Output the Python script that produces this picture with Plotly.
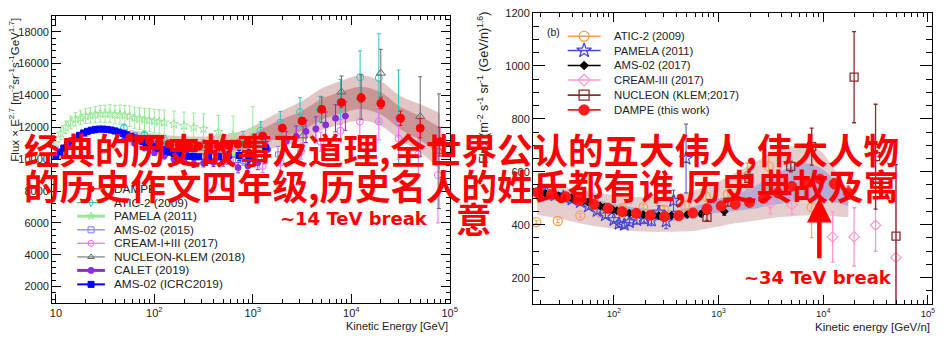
import plotly.graph_objects as go

W, H = 951, 352


def px(x):
    return x / W


def py(y):
    return 1 - y / H


# ================= Left panel : proton, Flux x E^2.7 =================
dampe_p_E = [56, 71, 89, 112, 141, 178, 224, 282, 355, 447, 562, 708, 891, 1259, 1995,
             3162, 5012, 7943, 12590, 19950, 31620, 50120, 79430]
dampe_p_F = [11350, 11250, 11150, 11050, 10950, 10900, 10850, 10820, 10800, 10820, 10870,
             10950, 11050, 11450, 11950, 12400, 13130, 13560, 13850, 13500, 12570, 11950, 11100]
dampe_p_err = [15, 15, 15, 15, 15, 15, 20, 20, 20, 25, 25, 30, 30, 40, 60, 90, 130, 180,
               250, 330, 450, 600, 900]
dampe_p_inner = [250, 250, 250, 260, 270, 280, 290, 300, 310, 330, 350, 380, 420, 480, 560,
                 620, 660, 680, 700, 700, 700, 750, 900]
dampe_p_outer = [500, 500, 500, 520, 540, 560, 580, 600, 620, 660, 700, 760, 840, 950, 1100,
                 1250, 1320, 1370, 1420, 1400, 1400, 1500, 1800]

atic_p_E = [49, 79, 126, 200, 316, 501, 794, 1202, 1905, 3020, 4786, 7762, 12300, 19050, 30200]
atic_p_F = [11950, 11500, 11200, 11000, 10900, 11000, 11300, 11800, 12300, 12960, 13150,
            13600, 15150, 15100, 12600]
atic_p_err = [250, 250, 280, 300, 330, 380, 450, 550, 700, 900, 800, 1400, 1650, 2770, 3000]

pamela_p_E = [10, 11.2, 12.6, 14.1, 15.8, 17.8, 20, 22.4, 25.1, 28.2, 31.6, 35.5, 39.8, 44.7,
              50.1, 56.2, 63.1, 70.8, 79.4, 89.1, 100, 112, 126, 158, 200, 251, 316, 447, 631, 1000]
pamela_p_F = [11000, 11600, 12000, 12300, 12500, 12600, 12700, 12750, 12800, 12850, 12850,
              12850, 12800, 12800, 12750, 12700, 12600, 12550, 12500, 12450, 12400, 12350,
              12300, 12200, 12100, 12000, 11900, 11700, 11500, 11800]
pamela_p_err = [350, 360, 380, 400, 420, 440, 460, 480, 500, 520, 540, 560, 580, 600, 620,
                640, 660, 680, 700, 720, 740, 760, 780, 820, 860, 900, 950, 1050, 1200, 1500]

ams15_p_E = [10, 12.6, 15.8, 20, 25.1, 31.6, 39.8, 50.1, 63.1, 79.4, 100, 126, 158, 200, 251,
             316, 398, 501, 631, 794, 1000, 1300, 1800]
ams15_p_F = [10150, 10750, 11250, 11600, 11800, 11850, 11800, 11680, 11500, 11300, 11050,
             10800, 10550, 10350, 10250, 10200, 10150, 10000, 9950, 9900, 10000, 10100, 10300]
ams15_p_err = [60, 60, 60, 60, 60, 60, 60, 70, 70, 80, 90, 100, 110, 120, 140, 160, 180, 200,
               230, 270, 320, 400, 500]

cream_p_E = [1259, 1905, 3090, 4898, 7762, 12220, 19050, 30200, 47860, 75860]
cream_p_F = [9580, 9780, 10508, 11100, 11784, 12365, 12365, 11300, 10300, 9000]
cream_p_err = [400, 450, 500, 600, 700, 900, 1150, 1300, 1400, 3000]

nucleon_p_E = [3236, 5012, 7943, 12590, 19950, 50120, 77620]
nucleon_p_F = [11474, 13100, 14223, 13900, 15400, 12675, 10500]
nucleon_p_err = [600, 800, 1000, 1400, 1500, 2500, 3600]

calet_p_E = [50, 63, 79, 100, 126, 158, 200, 251, 316, 398, 501, 556, 708, 891, 1122, 1413,
             2188, 2754, 3467, 4365, 5495, 6918, 8710]
calet_p_F = [11300, 11000, 10700, 10400, 10200, 10000, 9850, 9700, 9750, 9800, 9850, 9990,
             9474, 9579, 9780, 10607, 11126, 11436, 11746, 11907, 12155, 12570, 12712]
calet_p_err = [150, 150, 160, 170, 180, 190, 200, 220, 240, 260, 290, 300, 330, 380, 430, 500,
               600, 650, 700, 750, 800, 850, 900]

amsicrc_p_E = [10.0, 11.0, 12.0, 13.2, 14.5, 15.8, 17.4, 19.1, 20.9, 22.9, 25.1, 27.5, 30.2,
               33.1, 36.3, 39.8, 43.7, 47.9, 52.5, 57.5, 63.1, 69.2, 75.9, 83.2, 91.2, 100,
               110, 120, 132, 145, 158, 174, 191, 209, 229, 251, 282, 355, 447, 562, 724,
               912, 1350]
amsicrc_p_F = [10200, 10450, 10700, 10950, 11150, 11350, 11500, 11650, 11750, 11820, 11870,
               11890, 11890, 11870, 11830, 11770, 11700, 11620, 11530, 11430, 11330, 11220,
               11110, 11000, 10890, 10790, 10690, 10600, 10510, 10430, 10360, 10300, 10250,
               10210, 10180, 10160, 10150, 10150, 10170, 10200, 10230, 10200, 10715]
amsicrc_p_err = [30, 30, 30, 30, 30, 30, 30, 30, 30, 30, 30, 30, 30, 30, 35, 35, 35, 35, 40,
                 40, 40, 45, 45, 50, 50, 55, 60, 65, 70, 75, 80, 90, 100, 110, 120, 130, 150,
                 180, 220, 270, 330, 420, 650]

# ================= Right panel : helium, GeV/n =================
dampe_he_E = [18.6, 25.4, 34.7, 47.3, 64.6, 88.1, 120, 164, 224, 305, 417, 569, 776, 1059,
              1445, 1972, 2692, 3673, 5012, 6839, 9333, 12735, 17378]
dampe_he_F = [521, 515, 506, 492, 477, 462, 449, 443, 436, 431, 434, 444, 460, 471, 477, 484,
              500, 520, 545, 562, 572, 555, 521]
dampe_he_err = [3, 3, 3, 3, 3, 3, 3, 3, 3, 3, 4, 4, 5, 5, 6, 7, 8, 10, 12, 14, 17, 20, 25]
dampe_he_out_lo = [437, 428, 418, 405, 395, 388, 380, 375, 373, 373, 374, 376, 385, 395, 405,
                   412, 420, 428, 432, 435, 435, 432, 428]
dampe_he_out_hi = [548, 545, 540, 532, 523, 515, 508, 505, 505, 508, 515, 528, 545, 568, 595,
                   625, 655, 680, 695, 700, 680, 610, 530]
dampe_he_in_lo = [497, 492, 484, 472, 458, 444, 432, 426, 420, 415, 417, 425, 438, 447, 452,
                  458, 468, 478, 488, 494, 494, 486, 470]
dampe_he_in_hi = [530, 526, 520, 510, 497, 484, 472, 465, 458, 454, 457, 468, 484, 500, 515,
                  535, 565, 595, 620, 632, 615, 570, 510]

atic_he_E = [18.2, 29.2, 47.9, 74.8, 120, 191, 302, 479, 759, 1230, 1884, 3020, 7762]
atic_he_F = [410, 414, 435, 445, 463, 466, 457, 472, 506, 515, 583, 620, 466]
atic_he_err = [6, 6, 7, 8, 9, 10, 12, 14, 18, 25, 50, 40, 115]

pamela_he_E = [19.1, 22.9, 27.5, 33.1, 39.8, 47.9, 57.5, 69.2, 83.2, 100, 112, 126, 141, 166,
               195, 229, 269, 316, 372, 490]
pamela_he_F = [527, 520, 512, 505, 496, 486, 470, 452, 436, 418, 404, 400, 410, 418, 422, 416,
               447, 413, 490, 650]
pamela_he_err = [6, 6, 6, 6, 7, 7, 8, 8, 9, 10, 12, 13, 14, 16, 18, 20, 25, 28, 40, 130]

ams_he_E = [17.0, 18.6, 20.4, 22.4, 24.5, 26.9, 29.5, 32.4, 35.5, 38.9, 42.7, 46.8, 51.3, 56.2,
            61.7, 67.6, 74.1, 81.3, 89.1, 97.7, 107, 117, 129, 141, 155, 170, 191, 214, 240,
            269, 309, 355, 407, 501, 684, 1135]
ams_he_F = [523, 521, 519, 517, 515, 512, 510, 507, 504, 501, 498, 494, 490, 486, 481, 476,
            471, 466, 461, 457, 453, 450, 447, 444, 442, 440, 438, 436, 435, 434, 434, 435,
            436, 438, 441, 450]
ams_he_err = [2, 2, 2, 2, 2, 2, 2, 2, 2, 2, 2, 2, 2, 2, 2, 2, 2, 2, 2, 2, 3, 3, 3, 3, 3, 3,
              3, 4, 4, 4, 5, 5, 6, 8, 10, 14]

cream_he_E = [3126, 5012, 12300, 19720, 31620, 49430]
cream_he_F = [478, 476, 354, 354, 398, 276]
cream_he_err_up = [37, 37, 95, 110, 272, 394]
cream_he_err_dn = [37, 37, 95, 110, 99, 250]

nucleon_he_E = [776, 1230, 1950, 4898, 7762, 19720, 31620, 49550]
nucleon_he_F = [428, 484, 575, 620, 695, 957, 657, 357]
nucleon_he_err = [12, 15, 25, 20, 70, 172, 198, 270]

# tick labels
left_tickvals = [10, 100, 1000, 10000, 100000]
left_ticktext = ["10", "10<sup>2</sup>", "10<sup>3</sup>", "10<sup>4</sup>", "10<sup>5</sup>"]
right_tickvals = [100, 1000, 10000, 100000]
right_ticktext = ["10<sup>2</sup>", "10<sup>3</sup>", "10<sup>4</sup>", "10<sup>5</sup>"]

fig = go.Figure()


def add_band(E, lo, hi, color, xa, ya):
    fig.add_trace(go.Scatter(x=E, y=lo, mode="lines", line=dict(width=0, shape="spline"),
                             xaxis=xa, yaxis=ya, showlegend=False, hoverinfo="skip"))
    fig.add_trace(go.Scatter(x=E, y=hi, mode="lines", line=dict(width=0, shape="spline"),
                             fill="tonexty", fillcolor=color, xaxis=xa, yaxis=ya,
                             showlegend=False, hoverinfo="skip"))


def add_pts(E, F, err, color, symbol, size, xa, ya, lw=1.0, err_dn=None, ebw=1.0):
    ey = dict(type="data", array=err, color=color, thickness=ebw, width=2)
    if err_dn is not None:
        ey["arrayminus"] = err_dn
        ey["symmetric"] = False
    fig.add_trace(go.Scatter(x=E, y=F, mode="markers", xaxis=xa, yaxis=ya, showlegend=False,
                             marker=dict(color=color, symbol=symbol, size=size,
                                         line=dict(color=color, width=lw)),
                             error_y=ey, hoverinfo="skip"))


# ---- left bands ----
add_band(dampe_p_E, [f - o for f, o in zip(dampe_p_F, dampe_p_outer)],
         [f + o for f, o in zip(dampe_p_F, dampe_p_outer)], "rgba(178,105,105,0.38)", "x", "y")
add_band(dampe_p_E, [f - o for f, o in zip(dampe_p_F, dampe_p_inner)],
         [f + o for f, o in zip(dampe_p_F, dampe_p_inner)], "rgba(170,80,80,0.42)", "x", "y")

# ---- left points ----
add_pts(pamela_p_E, pamela_p_F, pamela_p_err, "#98e898", "star-open", 7, "x", "y")
add_pts(ams15_p_E, ams15_p_F, ams15_p_err, "#7a7aff", "square-open", 5, "x", "y")
add_pts(atic_p_E, atic_p_F, atic_p_err, "#2cc4c4", "circle-open", 7, "x", "y")
add_pts(cream_p_E, cream_p_F, cream_p_err, "#ff66ff", "circle-open", 7, "x", "y")
add_pts(nucleon_p_E, nucleon_p_F, nucleon_p_err, "#666666", "triangle-up-open", 8, "x", "y")
add_pts(calet_p_E, calet_p_F, calet_p_err, "#8a2be2", "circle", 6, "x", "y")
add_pts(amsicrc_p_E, amsicrc_p_F, amsicrc_p_err, "#0000ff", "square", 6, "x", "y")
add_pts(dampe_p_E, dampe_p_F, dampe_p_err, "#ff0000", "circle", 8, "x", "y")

# ---- right bands ----
add_band(dampe_he_E, dampe_he_out_lo, dampe_he_out_hi, "rgba(178,105,105,0.33)", "x2", "y2")
add_band(dampe_he_E, dampe_he_in_lo, dampe_he_in_hi, "rgba(110,120,220,0.40)", "x2", "y2")

# ---- right points ----
add_pts(atic_he_E, atic_he_F, atic_he_err, "#f5a050", "circle-open", 9, "x2", "y2", lw=1.3)
add_pts(pamela_he_E, pamela_he_F, pamela_he_err, "#4848cc", "star-open", 10, "x2", "y2", lw=1.2)
add_pts(ams_he_E, ams_he_F, ams_he_err, "#000000", "diamond", 6, "x2", "y2")
add_pts(cream_he_E, cream_he_F, cream_he_err_up, "#ff99cc", "diamond-open", 8, "x2", "y2",
        lw=1.2, err_dn=cream_he_err_dn, ebw=1.3)
add_pts(nucleon_he_E, nucleon_he_F, nucleon_he_err, "#8b2c2c", "square-open", 8, "x2", "y2",
        lw=1.3, ebw=1.3)
add_pts(dampe_he_E, dampe_he_F, dampe_he_err, "#ff1a1a", "circle", 10, "x2", "y2")

# ---- manual legends on a pixel overlay axis ----
left_leg_names = ["DAMPE", "ATIC-2 (2009)", "PAMELA (2011)", "AMS-02 (2015)",
                  "CREAM-I+III (2017)", "NUCLEON-KLEM (2018)", "CALET (2019)",
                  "AMS-02 (ICRC2019)"]
left_leg_colors = ["#ff0000", "#2cc4c4", "#98e898", "#7a7aff", "#ff66ff", "#666666",
                   "#8a2be2", "#0000ff"]
left_leg_symbols = ["circle", "diamond-tall-open", "star-open", "square-open", "circle-open",
                    "triangle-up-open", "circle", "square"]
left_leg_lw = [1.2, 1.2, 3, 1.2, 1.2, 1.0, 3, 2]
left_leg_y = [186, 200, 213.8, 227.7, 241.4, 255.3, 269, 283.2]

right_leg_names = ["ATIC-2 (2009)", "PAMELA (2011)", "AMS-02 (2017)", "CREAM-III (2017)",
                   "NUCLEON (KLEM;2017)", "DAMPE (this work)"]
right_leg_colors = ["#f5a050", "#4848cc", "#000000", "#ff99cc", "#8b2c2c", "#ff1a1a"]
right_leg_symbols = ["circle-open", "star-open", "diamond", "diamond-open", "square-open",
                     "circle"]
right_leg_sizes = [10, 11, 6, 9, 10, 10]
right_leg_y = [30.7, 45.3, 60.5, 75.3, 90.7, 105.7]

annotations = []
for i, name in enumerate(left_leg_names):
    yy = left_leg_y[i]
    fig.add_trace(go.Scatter(x=[76, 104], y=[yy, yy], mode="lines", xaxis="x3", yaxis="y3",
                             line=dict(color=left_leg_colors[i], width=left_leg_lw[i]),
                             showlegend=False, hoverinfo="skip"))
    fig.add_trace(go.Scatter(x=[90], y=[yy], mode="markers", xaxis="x3", yaxis="y3",
                             marker=dict(symbol=left_leg_symbols[i], size=6,
                                         color=left_leg_colors[i],
                                         line=dict(color=left_leg_colors[i], width=1)),
                             showlegend=False, hoverinfo="skip"))
    annotations.append(dict(x=px(111), y=py(yy), xref="paper", yref="paper", text=name,
                            showarrow=False, xanchor="left", yanchor="middle",
                            font=dict(family="Liberation Sans, Arial", size=11.8,
                                      color="#222222")))
for i, name in enumerate(right_leg_names):
    yy = right_leg_y[i]
    fig.add_trace(go.Scatter(x=[571.7, 605], y=[yy, yy], mode="lines", xaxis="x3", yaxis="y3",
                             line=dict(color=right_leg_colors[i], width=1.6),
                             showlegend=False, hoverinfo="skip"))
    fig.add_trace(go.Scatter(x=[588.3], y=[yy], mode="markers", xaxis="x3", yaxis="y3",
                             marker=dict(symbol=right_leg_symbols[i], size=right_leg_sizes[i],
                                         color=right_leg_colors[i],
                                         line=dict(color=right_leg_colors[i], width=1.3)),
                             showlegend=False, hoverinfo="skip"))
    annotations.append(dict(x=px(616.7), y=py(yy), xref="paper", yref="paper", text=name,
                            showarrow=False, xanchor="left", yanchor="middle",
                            font=dict(family="Liberation Sans, Arial", size=11.3,
                                      color="#222222")))

# axis titles and labels
lab_font = dict(family="Liberation Sans, Arial", color="#222222")
annotations += [
    dict(x=px(12), y=py(10), xref="paper", yref="paper", textangle=-90,
         text="Flux \u00d7 E<sup>2.7</sup> [m<sup>-2</sup>sr<sup>-1</sup>s<sup>-1</sup>GeV<sup>1.7</sup>]",
         showarrow=False, xanchor="center", yanchor="top", font=dict(lab_font, size=11.5)),
    dict(x=px(486), y=py(4), xref="paper", yref="paper", textangle=-90,
         text="Flux (m<sup>-2</sup> s<sup>-1</sup> sr<sup>-1</sup> (GeV/n)<sup>1.6</sup>)",
         showarrow=False, xanchor="center", yanchor="top", font=dict(lab_font, size=12.5)),
    dict(x=px(453), y=py(326), xref="paper", yref="paper", text="Kinetic Energy [GeV]",
         showarrow=False, xanchor="right", yanchor="middle", font=dict(lab_font, size=11)),
    dict(x=px(940), y=py(327), xref="paper", yref="paper", text="Kinetic energy [GeV/n]",
         showarrow=False, xanchor="right", yanchor="middle", font=dict(lab_font, size=11.5)),
    dict(x=px(557), y=py(26), xref="paper", yref="paper", text="(b)",
         showarrow=False, xanchor="center", yanchor="middle", font=dict(lab_font, size=10.5)),
]

# overlay red texts
cn_font = dict(family="Noto Sans CJK SC", size=35.5, color="#ff0000", weight="bold")
annotations += [
    dict(x=px(20), y=py(145), xref="paper", yref="paper",
         text="经典的历史故事及道理,全世界公认的五大伟人,伟大人物",
         showarrow=False, xanchor="left", yanchor="middle", font=cn_font),
    dict(x=px(20), y=py(181.5), xref="paper", yref="paper",
         text="的历史作文四年级,历史名人的姓氏都有谁,历史典故及寓",
         showarrow=False, xanchor="left", yanchor="middle", font=cn_font),
    dict(x=px(477), y=py(215), xref="paper", yref="paper", text="意",
         showarrow=False, xanchor="center", yanchor="middle", font=cn_font),
    dict(x=px(356), y=py(216.5), xref="paper", yref="paper", text="~14 TeV break",
         showarrow=False, xanchor="center", yanchor="middle",
         font=dict(family="DejaVu Sans", size=18, color="#ff0000", weight="bold")),
    dict(x=px(825), y=py(276.7), xref="paper", yref="paper", text="~34 TeV break",
         showarrow=False, xanchor="center", yanchor="middle",
         font=dict(family="DejaVu Sans", size=18, color="#ff0000", weight="bold")),
    dict(x=px(826), y=py(195), xref="paper", yref="paper", ax=0, ay=62, text="",
         showarrow=True, arrowhead=2, arrowsize=1.1, arrowwidth=4.5, arrowcolor="#ff0000"),
]

tick_font_l = dict(family="Liberation Sans, Arial", size=11, color="#222222")
tick_font_r = dict(family="Liberation Sans, Arial", size=11, color="#222222")

common = dict(showline=True, linecolor="#000000", linewidth=1, mirror="ticks",
              ticks="inside", tickcolor="#000000", showgrid=False, zeroline=False)

fig.update_layout(
    width=W, height=H, margin=dict(l=0, r=0, t=0, b=0),
    paper_bgcolor="white", plot_bgcolor="rgba(0,0,0,0)", showlegend=False,
    xaxis=dict(common, type="log", range=[0.962, 5.005], domain=[px(50.7), px(453)],
               anchor="y", tickmode="array", tickvals=left_tickvals, ticktext=left_ticktext,
               ticklen=9, tickfont=tick_font_l,
               minor=dict(dtick="D1", ticks="inside", ticklen=4, tickcolor="#000000",
                          showgrid=False)),
    yaxis=dict(common, range=[1000, 19000], domain=[py(301.7), py(10)], anchor="x",
               tickmode="linear", tick0=0, dtick=2000, tickformat="d", ticklen=9,
               tickfont=tick_font_l,
               minor=dict(dtick=400, ticks="inside", ticklen=4, tickcolor="#000000",
                          showgrid=False)),
    xaxis2=dict(common, type="log", range=[1.229, 5.04], domain=[px(536.7), px(940)],
                anchor="y2", tickmode="array", tickvals=right_tickvals,
                ticktext=right_ticktext, ticklen=9,
                tickfont=dict(family="Liberation Sans, Arial", size=9.5, color="#222222"),
                minor=dict(dtick="D1", ticks="inside", ticklen=4, tickcolor="#000000",
                           showgrid=False)),
    yaxis2=dict(common, range=[100, 1200], domain=[py(303.3), py(7)], anchor="x2",
                tickmode="linear", tick0=0, dtick=200, tickformat="d", ticklen=12,
                tickfont=tick_font_r,
                minor=dict(dtick=50, ticks="inside", ticklen=6, tickcolor="#000000",
                           showgrid=False)),
    xaxis3=dict(range=[0, W], domain=[0, 1], visible=False, fixedrange=True, anchor="y3"),
    yaxis3=dict(range=[H, 0], domain=[0, 1], visible=False, fixedrange=True, anchor="x3"),
    annotations=annotations,
)

fig.write_html("out.html")
